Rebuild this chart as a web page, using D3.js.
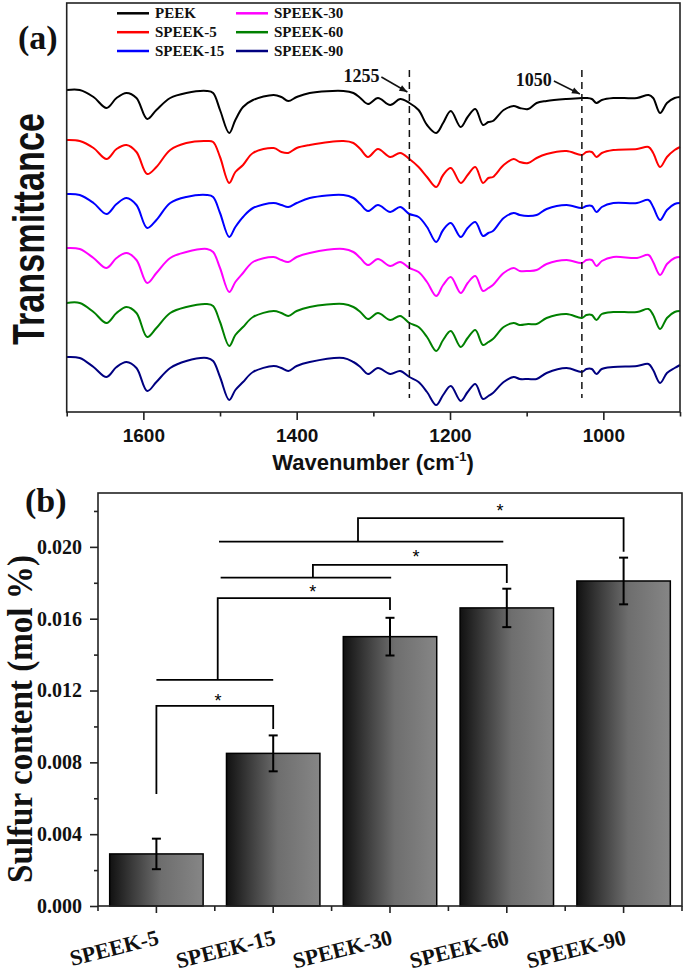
<!DOCTYPE html>
<html><head><meta charset="utf-8">
<script src="https://cdn.jsdelivr.net/npm/d3@7"></script>
<style>
body{margin:0;background:#fff;}
svg{display:block;}
</style></head><body>
<svg id="chart" width="688" height="973"></svg>
<script>
// ---------------- Panel (a): FTIR spectra ----------------
const wavenumbers = [1700,1683,1665,1648,1635,1622,1609,1595,1583,1565,1544,1517,1509,1500,1488,1480,1470,1457,1430,1420,1411,1400,1383,1339,1326,1317,1307,1294,1278,1265,1253,1241,1230,1218,1209,1199,1186,1177,1167,1157,1150,1144,1130,1117,1109,1098,1087,1074,1048,1028,1022,1015,1009,1002,987,956,941,935,926,917,907,900];
// transmittance, arbitrary units (stacked with offsets)
const peek    = [322,322,315,304,314,319,314,293,302,314,319,321,319,302,279,292,305,312,317,315,311,315,319,321,319,314,308,314,307,313,309,302,287,279,289,301,285,295,303,287,290,291,302,306,304,303,309,311,313,314,314,313,309,312,314,314,317,314,299,309,314,315];
const speek5  = [272,271,264,253,263,267,260,238,245,262,269,271,270,255,229,240,247,259,264,260,259,264,267,271,269,263,255,263,255,259,253,245,235,225,237,244,229,237,245,229,234,235,247,253,250,249,254,258,261,257,260,260,255,259,262,263,265,259,245,255,262,265];
const speek15 = [218,217,209,198,208,214,207,184,192,209,215,217,215,199,175,185,195,204,209,207,205,209,214,217,214,208,201,207,200,205,198,195,185,170,182,189,175,184,190,176,179,181,194,199,197,196,197,203,207,204,206,206,200,205,209,209,212,205,192,202,208,209];
const speek30 = [164,163,154,144,154,159,152,129,139,154,160,163,160,144,120,130,139,150,155,152,150,155,159,163,160,154,147,153,146,150,144,140,130,116,127,135,119,129,136,121,124,127,139,144,141,141,142,148,152,149,152,152,146,151,155,154,157,150,137,148,154,155];
const speek60 = [109,109,100,89,99,105,99,75,84,99,105,108,106,90,66,77,85,95,101,99,96,101,105,108,105,100,93,99,92,96,89,85,75,61,72,81,65,74,82,67,70,73,85,89,87,88,88,94,98,94,97,97,92,98,100,100,103,97,83,94,100,101];
const speek90 = [55,54,45,35,45,50,44,21,30,44,51,54,51,35,12,22,30,40,46,44,41,46,50,54,50,45,38,44,38,41,35,30,20,7,17,26,11,20,28,13,16,19,30,35,33,33,33,39,44,40,43,43,38,43,45,46,48,42,29,39,44,47];
const seriesNames  = ["PEEK","SPEEK-5","SPEEK-15","SPEEK-30","SPEEK-60","SPEEK-90"];
const seriesValues = [peek, speek5, speek15, speek30, speek60, speek90];
const seriesColors = ["#000000","#ff0000","#0000ff","#ff00ff","#008000","#000080"];
const xTicksA      = [1600,1400,1200,1000];
const xMinorA      = [1700,1500,1300,1100,900];
const markerWn     = [1253,1028];
const markerLabels = ["1255","1050"];
const markerLabelLevel = [330,326];
const markerTipLevel   = [320,318];
const markerTop = 342, markerBottom = 14;

// ---------------- Panel (b): sulfur content ----------------
const categories = ["SPEEK-5","SPEEK-15","SPEEK-30","SPEEK-60","SPEEK-90"];
const sulfur     = [0.0029,0.0085,0.0150,0.0166,0.0181];
const sulfurErr  = [0.00085,0.0010,0.00105,0.00107,0.0013];
const yTicksB    = [0,0.004,0.008,0.012,0.016,0.020];
const yMinorB    = [0.002,0.006,0.010,0.014,0.018,0.022];
// significance brackets (positions in category-index units)
const bracketFrom     = [0,0.525,1.34,1.726];
const bracketTo       = [1,2,3,4];
const bracketTop      = [0.01114,0.01715,0.0190,0.0216];
const bracketLeftEnd  = [0.00624,0.01259,0.01829,0.02029];
const bracketRightEnd = [0.00986,0.01649,0.01799,0.01973];
const starPos   = [0.527,1.338,2.223,2.942];
const starLevel = [0.01164,0.01771,0.01966,0.02224];
const groupFrom  = [0,0.55,0.536];
const groupTo    = [1,2.01,2.97];
const groupLevel = [0.01259,0.01829,0.02029];

const SERIF = "'Liberation Serif','Times New Roman',serif";
const SANS  = "'Liberation Sans',Arial,sans-serif";
const svg = d3.select("#chart");
svg.append("rect").attr("width",688).attr("height",973).attr("fill","#fff");

const defs = svg.append("defs");
defs.append("marker").attr("id","arrow").attr("viewBox","0 0 10 10")
  .attr("refX",10).attr("refY",5).attr("markerWidth",9).attr("markerHeight",8)
  .attr("markerUnits","userSpaceOnUse").attr("orient","auto")
  .append("path").attr("d","M0,1 L10,5 L0,9 Z").attr("fill","#111");
const grad = defs.append("linearGradient").attr("id","barGrad")
  .attr("x1","0").attr("x2","1").attr("y1","0").attr("y2","0");
[["0%","#111111"],["25%","#3c3c3c"],["55%","#6e6e6e"],["100%","#868686"]]
  .forEach(([o,c])=>grad.append("stop").attr("offset",o).attr("stop-color",c));

// ===== Panel (a) =====
const xA = d3.scaleLinear().domain([1700,900]).range([66.7,680]);
const yA = d3.scaleLinear().domain([0,409]).range([412,3]);
const gA = svg.append("g");

const line = d3.line().x((d,i)=>xA(wavenumbers[i])).y(d=>yA(d)).curve(d3.curveCatmullRom.alpha(0.5));
seriesValues.forEach((vals,k)=>{
  gA.append("path").datum(vals).attr("d",line).attr("fill","none")
    .attr("stroke",seriesColors[k]).attr("stroke-width",2).attr("stroke-linejoin","round");
});

// dashed markers
markerWn.forEach((wn,i)=>{
  const x = xA(wn);
  gA.append("line").attr("x1",x).attr("x2",x).attr("y1",yA(markerTop)).attr("y2",yA(markerBottom))
    .attr("stroke","#111").attr("stroke-width",1.5).attr("stroke-dasharray","7,5");
  gA.append("text").attr("x",x-30).attr("y",yA(markerLabelLevel[i])).attr("text-anchor","end")
    .attr("font-family",SERIF).attr("font-weight","bold").attr("font-size",18).attr("fill","#111")
    .text(markerLabels[i]);
  gA.append("line").attr("x1",x-28).attr("y1",yA(markerLabelLevel[i]+5))
    .attr("x2",x-2).attr("y2",yA(markerTipLevel[i]))
    .attr("stroke","#111").attr("stroke-width",1.5).attr("marker-end","url(#arrow)");
});

// frame
gA.append("rect").attr("x",66.7).attr("y",3).attr("width",680-66.7).attr("height",409)
  .attr("fill","none").attr("stroke","#222").attr("stroke-width",1.6);

// x axis
const axA = gA.append("g").attr("transform","translate(0,412)")
  .call(d3.axisBottom(xA).tickValues(xTicksA).tickSize(8).tickPadding(9).tickFormat(d3.format("d")));
axA.select(".domain").remove();
axA.selectAll("line").attr("stroke","#222").attr("stroke-width",1.6);
axA.selectAll("text").attr("font-family",SANS).attr("font-weight","bold").attr("font-size",19).attr("fill","#111");
const axAm = gA.append("g").attr("transform","translate(0,412)")
  .call(d3.axisBottom(xA).tickValues(xMinorA).tickSize(4.5).tickFormat(""));
axAm.select(".domain").remove();
axAm.selectAll("line").attr("stroke","#222").attr("stroke-width",1.6);

const xt = gA.append("text").attr("x",373).attr("y",470).attr("text-anchor","middle")
  .attr("font-family",SANS).attr("font-weight","bold").attr("font-size",22).attr("fill","#111");
xt.append("tspan").text("Wavenumber (cm");
xt.append("tspan").attr("dy",-9).attr("font-size",13).text("-1");
xt.append("tspan").attr("dy",9).text(")");

gA.append("text").attr("transform","translate(44,229) rotate(-90)").attr("text-anchor","middle")
  .attr("font-family",SANS).attr("font-weight","bold").attr("font-size",44)
  .attr("textLength",232).attr("lengthAdjust","spacingAndGlyphs").attr("fill","#111").text("Transmittance");

gA.append("text").attr("x",18).attr("y",49).attr("font-family",SERIF).attr("font-weight","bold")
  .attr("font-size",34).attr("fill","#111").text("(a)");

// legend
const legCols = [117,236], legRows = [13.3,32.2,51];
seriesNames.forEach((n,i)=>{
  const cx = legCols[Math.floor(i/3)], cy = legRows[i%3];
  gA.append("line").attr("x1",cx).attr("x2",cx+32).attr("y1",cy).attr("y2",cy)
    .attr("stroke",seriesColors[i]).attr("stroke-width",2.5);
  gA.append("text").attr("x",cx+38).attr("y",cy+5).attr("font-family",SERIF).attr("font-weight","bold")
    .attr("font-size",15).attr("fill","#111").text(n);
});

// ===== Panel (b) =====
const xB = d3.scaleBand().domain(categories).range([98,682]).paddingInner(0.2).paddingOuter(0.1);
const yB = d3.scaleLinear().domain([0,0.023]).range([906,493]);
const gB = svg.append("g");
const pos = p => xB(categories[0]) + xB.bandwidth()/2 + p*xB.step();

gB.selectAll("rect.bar").data(sulfur).enter().append("rect").attr("class","bar")
  .attr("x",(d,i)=>xB(categories[i])).attr("width",xB.bandwidth())
  .attr("y",d=>yB(d)).attr("height",d=>yB(0)-yB(d))
  .attr("fill","url(#barGrad)").attr("stroke","#000").attr("stroke-width",1.5);

sulfur.forEach((v,i)=>{
  const cx = xB(categories[i]) + xB.bandwidth()/2, e = sulfurErr[i];
  gB.append("line").attr("x1",cx).attr("x2",cx).attr("y1",yB(v-e)).attr("y2",yB(v+e))
    .attr("stroke","#000").attr("stroke-width",2);
  [v-e,v+e].forEach(t=>gB.append("line").attr("x1",cx-4.5).attr("x2",cx+4.5)
    .attr("y1",yB(t)).attr("y2",yB(t)).attr("stroke","#000").attr("stroke-width",2));
});

// brackets
groupLevel.forEach((lv,i)=>{
  gB.append("line").attr("x1",pos(groupFrom[i])).attr("x2",pos(groupTo[i]))
    .attr("y1",yB(lv)).attr("y2",yB(lv)).attr("stroke","#000").attr("stroke-width",1.8);
});
bracketTop.forEach((t,i)=>{
  const d = `M${pos(bracketFrom[i])},${yB(bracketLeftEnd[i])}V${yB(t)}H${pos(bracketTo[i])}V${yB(bracketRightEnd[i])}`;
  gB.append("path").attr("d",d).attr("fill","none").attr("stroke","#000").attr("stroke-width",1.8);
  gB.append("text").attr("x",pos(starPos[i])).attr("y",yB(starLevel[i])+10).attr("text-anchor","middle")
    .attr("font-family",SANS).attr("font-size",18).attr("fill","#000").text("*");
});

// frame
gB.append("rect").attr("x",98).attr("y",493).attr("width",584).attr("height",413)
  .attr("fill","none").attr("stroke","#222").attr("stroke-width",1.6);

// y axis
const ayB = gB.append("g").attr("transform","translate(98,0)")
  .call(d3.axisLeft(yB).tickValues(yTicksB).tickSize(8).tickPadding(8).tickFormat(d3.format(".3f")));
ayB.select(".domain").remove();
ayB.selectAll("line").attr("stroke","#222").attr("stroke-width",1.6);
ayB.selectAll("text").attr("font-family",SERIF).attr("font-weight","bold").attr("font-size",20).attr("fill","#111");
const ayBm = gB.append("g").attr("transform","translate(98,0)")
  .call(d3.axisLeft(yB).tickValues(yMinorB).tickSize(4).tickFormat(""));
ayBm.select(".domain").remove();
ayBm.selectAll("line").attr("stroke","#222").attr("stroke-width",1.6);

// x axis
const axB = gB.append("g").attr("transform","translate(0,906)")
  .call(d3.axisBottom(xB).tickSize(7).tickFormat(""));
axB.select(".domain").remove();
axB.selectAll("line").attr("stroke","#222").attr("stroke-width",1.6);
const bounds = [xB(categories[0]) - xB.step()*xB.paddingInner()/2].concat(categories.map(c=>xB(c)+xB.bandwidth()+xB.step()*xB.paddingInner()/2));
bounds.forEach(b=>gB.append("line").attr("x1",b).attr("x2",b).attr("y1",906).attr("y2",911)
  .attr("stroke","#222").attr("stroke-width",1.6));
categories.forEach(c=>{
  const cx = xB(c)+xB.bandwidth()/2;
  gB.append("text").attr("transform",`translate(${cx+3.5},944) rotate(-14)`).attr("text-anchor","end")
    .attr("font-family",SERIF).attr("font-weight","bold").attr("font-size",22).attr("fill","#111").text(c);
});

gB.append("text").attr("transform","translate(32,719) rotate(-90)").attr("text-anchor","middle")
  .attr("font-family",SERIF).attr("font-weight","bold").attr("font-size",36)
  .attr("textLength",328).attr("lengthAdjust","spacingAndGlyphs").attr("fill","#111")
  .text("Sulfur content (mol %)");

gB.append("text").attr("x",25).attr("y",512).attr("font-family",SERIF).attr("font-weight","bold")
  .attr("font-size",34).attr("fill","#111").text("(b)");
</script>
</body></html>
